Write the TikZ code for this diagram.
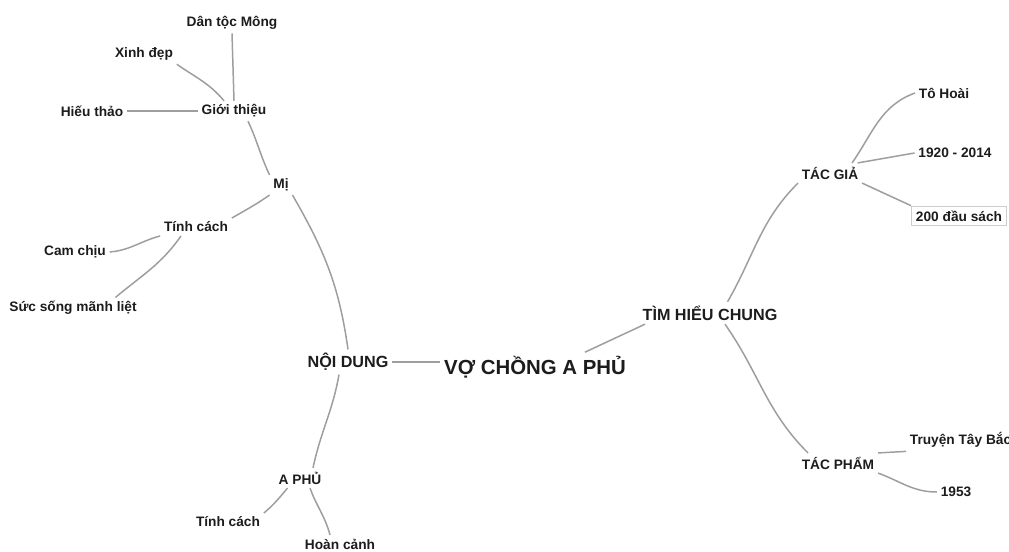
\documentclass[tikz,border=0pt]{standalone}
\usepackage{fontspec}
\setmainfont{Liberation Sans}
\usepackage{xcolor}
\usepackage{tikz}
\usetikzlibrary{positioning}
\definecolor{mytext}{RGB}{28,28,28}
\definecolor{mylink}{RGB}{158,158,158}
\definecolor{myframe}{RGB}{205,205,205}
\tikzset{
  topic/.style={inner sep=2pt, text=mytext, font=\fontsize{11.6}{13}\selectfont\bfseries},
  branch/.style={inner sep=2pt, text=mytext, font=\fontsize{9.2}{11}\selectfont\bfseries},
  leaf/.style={inner sep=2pt, text=mytext, font=\fontsize{7.8}{9}\selectfont\bfseries},
  leafbox/.style={leaf, draw=myframe, line width=0.5pt, inner sep=2.6pt},
  link/.style={draw=mylink, line width=0.85pt}
}

\begin{document}
\begin{tikzpicture}[scale=1.0]
  \useasboundingbox (0,0) rectangle (20.18,11.02);
  \clip (0,0) rectangle (20.18,11.02);
  % Centre topic
  \node[topic] (root) at (10.70, 3.68) {VỢ CHỒNG A PHỦ};
  % Left side: content
  \node[branch] (noidung) at (6.96, 3.78) {NỘI DUNG};
  \node[leaf] (mi) at (5.62, 7.32) {Mị};
  \node[leaf] (gioithieu) at (4.68, 8.80) {Giới thiệu};
  \node[leaf] (dantoc) at (4.64, 10.56) {Dân tộc Mông};
  \node[leaf] (xinhdep) at (2.88, 9.94) {Xinh đẹp};
  \node[leaf] (hieuthao) at (1.84, 8.80) {Hiếu thảo};
  \node[leaf] (tinhcachmi) at (3.92, 6.48) {Tính cách};
  \node[leaf] (camchiu) at (1.50, 5.98) {Cam chịu};
  \node[leaf] (sucsong) at (1.46, 4.86) {Sức sống mãnh liệt};
  \node[leaf] (aphu) at (6.00, 1.46) {A PHỦ};
  \node[leaf] (tinhcachaphu) at (4.56, 0.58) {Tính cách};
  \node[leaf] (hoancanh) at (6.80, 0.14) {Hoàn cảnh};
  % Right side: overview
  \node[branch] (timhieu) at (14.20, 4.76) {TÌM HIỂU CHUNG};
  \node[leaf] (tacgia) at (16.60, 7.56) {TÁC GIẢ};
  \node[leaf] (tohoai) at (18.88, 9.16) {Tô Hoài};
  \node[leaf] (namsinh) at (19.10, 7.96) {1920 - 2014};
  \node[leafbox] (dausach) at (19.18, 6.70) {200 đầu sách};
  \node[leaf] (tacpham) at (16.76, 1.76) {TÁC PHẨM};
  \node[leaf, anchor=west] (truyen) at (18.12, 2.22) {Truyện Tây Bắc};
  \node[leaf] (nam1953) at (19.12, 1.18) {1953};
  % Links on the left
  \draw[link] (noidung.east) -- (noidung.east -| root.west);
  \draw[link] (mi.south east) to[out=-60, in=98] (noidung.north);
  \draw[link] ([xshift=0.28cm]gioithieu.south) to[out=-65, in=115] (mi.north west);
  \draw[link] (dantoc.south) -- (gioithieu.north);
  \draw[link] (xinhdep.south east) to[out=-35, in=130] ([xshift=-0.2cm]gioithieu.north);
  \draw[link] (hieuthao.east) -- (gioithieu.west);
  \draw[link] (mi.south west) to[out=-145, in=30] (tinhcachmi.north east);
  \draw[link] (tinhcachmi.south west) to[out=195, in=5] (camchiu.east);
  \draw[link] ([xshift=-0.3cm]tinhcachmi.south) to[out=-125, in=40] ([xshift=-0.5cm]sucsong.north east);
  \draw[link] ([xshift=-0.18cm]noidung.south) to[out=-100, in=78] ([xshift=0.26cm]aphu.north);
  \draw[link] ([xshift=-0.25cm]aphu.south) to[out=-130, in=40] (tinhcachaphu.north east);
  \draw[link] ([xshift=0.2cm]aphu.south) to[out=-70, in=105] ([xshift=-0.2cm]hoancanh.north);
  % Links on the right
  \draw[link] ([xshift=1cm]root.north) -- ([xshift=-1.3cm]timhieu.south);
  \draw[link] ([xshift=0.35cm]timhieu.north) to[out=60, in=-135] (tacgia.south west);
  \draw[link] ([xshift=0.3cm]timhieu.south) to[out=-55, in=135] ([xshift=0.2cm]tacpham.north west);
  \draw[link] ([xshift=-0.2cm]tacgia.north east) to[out=55, in=-160] (tohoai.west);
  \draw[link] (tacgia.20) -- (namsinh.west);
  \draw[link] (tacgia.south east) -- (dausach.north west);
  \draw[link] (tacpham.north east) -- (truyen.south west);
  \draw[link] (tacpham.south east) to[out=-20, in=180] (nam1953.west);
\end{tikzpicture}
\end{document}
